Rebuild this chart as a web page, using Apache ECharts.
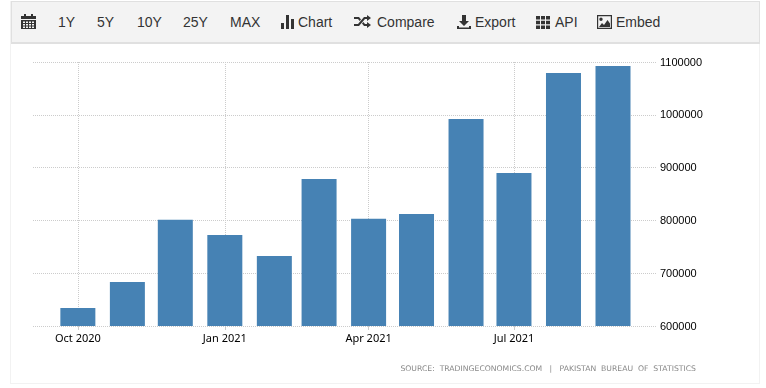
<!DOCTYPE html>
<html>
<head>
<meta charset="utf-8">
<title>Pakistan</title>
<script src="https://cdn.jsdelivr.net/npm/echarts@6/dist/echarts.min.js"></script>
<style>
  html, body { margin: 0; padding: 0; background: #fff; overflow: hidden; }
  #frame { position: absolute; left: 10px; top: 1px; width: 748px; height: 381px; border: 1px solid #f2f2f2; }
  #echart { position: absolute; left: 0; top: 0; width: 766px; height: 388px; }
  #toolbar {
    position: absolute; left: 11px; top: 1px; width: 747px; height: 40px;
    background: #f3f3f3; border: 1px solid #e0e0e0; border-width: 1px 1px 2px 1px; box-sizing: content-box;
    font: 14px "Liberation Sans", Arial, sans-serif; color: #333;
  }
  #toolbar span { position: absolute; top: 12px; line-height: 16px; white-space: nowrap; }
  #toolbar svg { position: absolute; fill: #333; }
</style>
</head>
<body>
<div id="frame"></div>
<div id="echart"></div>
<div id="toolbar">
  <svg style="left:9px;top:12px" width="15" height="16" viewBox="0 0 15 16"><path d="M3 0h2v2h5V0h2v2h3v3H0V2h3zM0 6h15v9H0zM2 7.5v1.5h2V7.5zM5 7.5v1.5h2V7.5zM8 7.5v1.5h2V7.5zM11 7.5v1.5h2V7.5zM2 10v1.500h2V10zM5 10v1.500h2V10zM8 10v1.500h2V10zM11 10v1.500h2V10zM2 12.500V14h2v-1.500zM5 12.500V14h2v-1.500zM8 12.500V14h2v-1.500zM11 12.500V14h2v-1.500z" fill-rule="evenodd"/></svg>
  <span style="left:46px">1Y</span>
  <span style="left:85px">5Y</span>
  <span style="left:125px">10Y</span>
  <span style="left:171px">25Y</span>
  <span style="left:218px">MAX</span>
  <svg style="left:269px;top:13px" width="13" height="14" viewBox="0 0 13 14"><path d="M0 8h3v6H0zM5 0h3v14H5zM10 4h3v10h-3z"/></svg>
  <span style="left:286px">Chart</span>
  <svg style="left:342px;top:13px" width="17" height="13" viewBox="0 0 17 13"><path d="M13 0l4 3-4 3V4h-2L5 11H0V9h4l6-7h3zM0 2h5l2 2.500-1.300 1.500L4 4H0zM13 7l4 3-4 3v-2h-3L8 8.500 9.300 7 11 9h2z"/></svg>
  <span style="left:365px">Compare</span>
  <svg style="left:445px;top:13px" width="14" height="14" viewBox="0 0 14 14"><path d="M5 0h4v6h3l-5 5-5-5h3zM0 11h2v1.500h10V11h2v3H0z"/></svg>
  <span style="left:463px">Export</span>
  <svg style="left:524px;top:14px" width="14" height="13" viewBox="0 0 14 13"><path d="M0 0h4v3.500H0zM5 0h4v3.500H5zM10 0h4v3.500h-4zM0 4.700h4v3.500H0zM5 4.700h4v3.500H5zM10 4.700h4v3.500h-4zM0 9.500h4V13H0zM5 9.500h4V13H5zM10 9.500h4V13h-4z"/></svg>
  <span style="left:543px">API</span>
  <svg style="left:585px;top:13px" width="15" height="14" viewBox="0 0 15 14"><path fill-rule="evenodd" d="M0 0h15v14H0zM1.200 1.200v11.600h12.600V1.200zM2 12l3-4 2 2 3.500-5L13 8.500V12zM4 2.500a1.700 1.700 0 110 3.400 1.700 1.700 0 010-3.400z"/></svg>
  <span style="left:604px">Embed</span>
</div>

<script>
// monthly values
const months = ["2020-10-01", "2020-11-01", "2020-12-01", "2021-01-01", "2021-02-01", "2021-03-01",
  "2021-04-01", "2021-05-01", "2021-06-01", "2021-07-01", "2021-08-01", "2021-09-01"];
const values = [634000, 683500, 801000, 772500, 732500, 878500,
  803000, 812000, 992000, 890000, 1079000, 1092500];
const tickMonths = ["2020-10-01", "2021-01-01", "2021-04-01", "2021-07-01"];
const monthNames = ["Jan", "Feb", "Mar", "Apr", "May", "Jun", "Jul", "Aug", "Sep", "Oct", "Nov", "Dec"];
const source = "SOURCE:  TRADINGECONOMICS.COM   |   PAKISTAN  BUREAU  OF  STATISTICS";

const toTime = (d) => Date.parse(d + "T00:00:00Z");
const tickTimes = tickMonths.map(toTime);
const gridLine = { color: "#ccc", type: [1, 1], width: 1 };

const chart = echarts.init(document.getElementById("echart"), null, { renderer: "canvas" });
chart.setOption({
  animation: false,
  title: {
    text: source,
    right: 70,
    top: 365,
    padding: 0,
    textStyle: { color: "#888", fontSize: 7.7, fontWeight: "normal", fontFamily: "DejaVu Sans" },
  },
  grid: { left: 33, right: 110, top: 62, height: 264 },
  // plain value axis holding timestamps, customValues breaks on a time axis
  xAxis: {
    type: "value",
    min: Date.UTC(2020, 8, 2, 22),
    max: Date.UTC(2021, 8, 27, 22),
    axisLine: { show: false },
    axisTick: { show: true, customValues: tickTimes, length: 4, lineStyle: { color: "#ccc" } },
    axisLabel: {
      customValues: tickTimes,
      hideOverlap: false,
      margin: 7,
      color: "#000",
      fontSize: 11,
      fontFamily: "Noto Sans",
      formatter: (v) => {
        const d = new Date(v);
        return monthNames[d.getUTCMonth()] + " " + d.getUTCFullYear();
      },
    },
    splitLine: { show: true, lineStyle: gridLine },
  },
  yAxis: {
    type: "value",
    position: "right",
    min: 600000,
    max: 1100000,
    interval: 100000,
    axisLine: { show: false },
    axisTick: { show: false },
    axisLabel: {
      margin: 4,
      verticalAlign: "top",
      padding: [-5, 0, 0, 0],
      color: "#000",
      fontSize: 11,
      fontFamily: "Liberation Sans",
      formatter: (v) => String(v),
    },
    splitLine: { show: true, lineStyle: gridLine },
  },
  series: [
    {
      type: "bar",
      barWidth: 35,
      itemStyle: { color: "#4682b4" },
      data: months.map((m, i) => [toTime(m), values[i]]),
    },
  ],
});
</script>
</body>
</html>
